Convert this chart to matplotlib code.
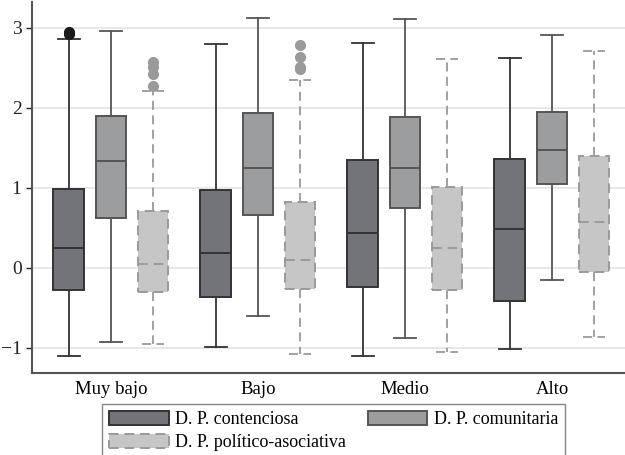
import matplotlib
matplotlib.use("Agg")
import matplotlib.pyplot as plt
from matplotlib.patches import Patch

plt.rcParams['font.family'] = ['Liberation Serif', 'DejaVu Serif']

groups = ["Muy bajo", "Bajo", "Medio", "Alto"]
series = ["D. P. contenciosa", "D. P. comunitaria", "D. P. político-asociativa"]

# Box statistics per series, one value per group (Muy bajo, Bajo, Medio, Alto)
q1 = {
    "D. P. contenciosa": [-0.28, -0.365, -0.24, -0.415],
    "D. P. comunitaria": [0.62, 0.66, 0.75, 1.04],
    "D. P. político-asociativa": [-0.30, -0.27, -0.285, -0.06],
}
median = {
    "D. P. contenciosa": [0.25, 0.185, 0.435, 0.48],
    "D. P. comunitaria": [1.33, 1.25, 1.25, 1.465],
    "D. P. político-asociativa": [0.05, 0.10, 0.25, 0.565],
}
q3 = {
    "D. P. contenciosa": [0.98, 0.965, 1.34, 1.36],
    "D. P. comunitaria": [1.89, 1.93, 1.88, 1.95],
    "D. P. político-asociativa": [0.71, 0.82, 1.01, 1.40],
}
whisker_low = {
    "D. P. contenciosa": [-1.11, -0.99, -1.10, -1.02],
    "D. P. comunitaria": [-0.93, -0.60, -0.88, -0.16],
    "D. P. político-asociativa": [-0.96, -1.085, -1.05, -0.87],
}
whisker_high = {
    "D. P. contenciosa": [2.86, 2.80, 2.81, 2.62],
    "D. P. comunitaria": [2.96, 3.12, 3.11, 2.91],
    "D. P. político-asociativa": [2.21, 2.35, 2.61, 2.71],
}
outliers = {
    "D. P. contenciosa": [[2.92, 2.94], [], [], []],
    "D. P. comunitaria": [[], [], [], []],
    "D. P. político-asociativa": [[2.27, 2.42, 2.51, 2.57], [2.48, 2.51, 2.63, 2.78], [], []],
}

face = {"D. P. contenciosa": "#737477", "D. P. comunitaria": "#9c9d9f",
        "D. P. político-asociativa": "#c6c6c7"}
edge = {"D. P. contenciosa": "#333333", "D. P. comunitaria": "#555555",
        "D. P. político-asociativa": "#9a9a9a"}
style = {"D. P. contenciosa": "-", "D. P. comunitaria": "-",
         "D. P. político-asociativa": (0, (5, 3))}
flier_color = {"D. P. contenciosa": "#1a1a1a", "D. P. comunitaria": "#555555",
               "D. P. político-asociativa": "#9a9a9a"}

fig = plt.figure(figsize=(6.25, 4.55), dpi=100)
ax = fig.add_axes([32 / 625, 1 - 372.7 / 455, 1 - 32 / 625, (372.7 - 2) / 455])

offsets = [-0.286, 0.0, 0.286]
for s, off in zip(series, offsets):
    stats = []
    for i in range(len(groups)):
        stats.append(dict(med=median[s][i], q1=q1[s][i], q3=q3[s][i],
                          whislo=whisker_low[s][i], whishi=whisker_high[s][i],
                          fliers=outliers[s][i]))
    pos = [i + off for i in range(len(groups))]
    ls = style[s]
    ax.bxp(stats, positions=pos, widths=0.21, capwidths=0.145,
           patch_artist=True, showfliers=True, manage_ticks=False,
           boxprops=dict(facecolor=face[s], edgecolor=edge[s], linewidth=1.4, linestyle=ls),
           medianprops=dict(color=edge[s], linewidth=1.4, linestyle=ls),
           whiskerprops=dict(color=edge[s], linewidth=1.3, linestyle=ls),
           capprops=dict(color=edge[s], linewidth=1.3, linestyle=ls),
           flierprops=dict(marker='o', markerfacecolor=flier_color[s],
                           markeredgecolor=flier_color[s], markersize=7))

ax.set_xlim(-0.537, 3.497)
ax.set_ylim(-1.315, 3.319)
ax.set_yticks([-1, 0, 1, 2, 3])
ax.set_xticks(range(len(groups)))
ax.set_xticklabels(groups)
ax.tick_params(axis='x', length=0, labelsize=13.5, pad=6)
ax.tick_params(axis='y', length=4, width=1, labelsize=14, colors='#222222')
ax.grid(axis='y', color='#e6e6e6', linewidth=1.3)
ax.set_axisbelow(True)
for side in ('top', 'right'):
    ax.spines[side].set_visible(False)
for side in ('left', 'bottom'):
    ax.spines[side].set_color('#555555')
    ax.spines[side].set_linewidth(1.5)

# Legend filled row by row: contenciosa, comunitaria / político-asociativa
order = [0, 2, 1]
handles = [Patch(facecolor=face[series[k]], edgecolor=edge[series[k]],
                 linestyle=style[series[k]], linewidth=1.4) for k in order]
labels = [series[k] for k in order]
leg = fig.legend(handles, labels, ncol=2, loc='upper left',
                 bbox_to_anchor=(102 / 625, 1 - 404 / 455),
                 fontsize=13, frameon=True, fancybox=False,
                 edgecolor='#666666', handlelength=3.3, handleheight=0.8,
                 borderaxespad=0, borderpad=0.4, labelspacing=0.3,
                 handletextpad=0.35, columnspacing=1.2)
leg.get_frame().set_linewidth(1.0)

fig.savefig("out.png", dpi=100)
